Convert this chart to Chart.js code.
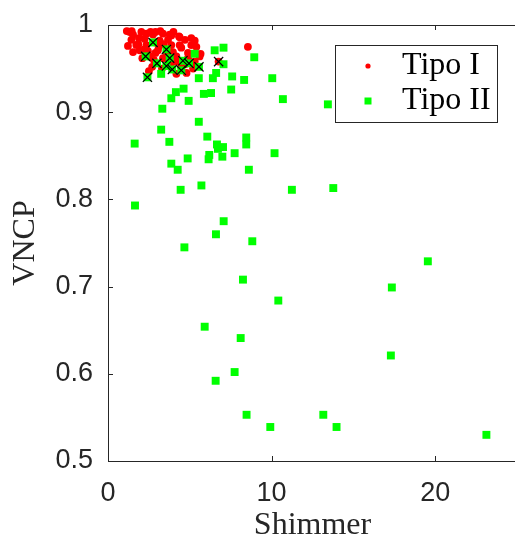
<!DOCTYPE html>
<html>
<head>
<meta charset="utf-8">
<script src="https://cdn.jsdelivr.net/npm/chart.js@4.4.1/dist/chart.umd.min.js"></script>
<style>
html, body { margin: 0; padding: 0; overflow: hidden; background: #fff; }
</style>
</head>
<body>
<canvas id="scatter" width="530" height="540"></canvas>
<script>
// Tipo I (rojo)
const tipo1X = [1.33, 1.53, 2.04, 2.35, 2.75, 3.36, 3.77, 4.34, 5.09, 1.43, 1.89, 2.24, 3.16, 3.67,
  1.22, 1.73, 2.35, 3.87, 4.38, 5.09, 1.53, 1.94, 2.44, 3.05, 3.97, 4.89, 2.55, 3.36, 4.18, 4.89,
  4.48, 4.18, 2.50, 5.60, 3.87, 4.38, 5.66, 4.48, 3.87, 8.55, 6.76, 1.15, 2.90, 3.10, 2.10, 4.70,
  5.30, 2.80, 1.45, 2.60, 3.20, 4.00, 1.85, 2.90, 3.40, 4.70, 5.40, 5.30, 2.20, 2.90, 3.60, 4.20,
  3.30, 2.70, 5.20, 4.80];
const tipo1Y = [0.992, 0.989, 0.992, 0.990, 0.989, 0.990, 0.989, 0.987, 0.985, 0.983, 0.985, 0.984, 0.982, 0.983,
  0.976, 0.977, 0.977, 0.977, 0.977, 0.977, 0.969, 0.971, 0.970, 0.971, 0.969, 0.968, 0.964, 0.962, 0.964, 0.962,
  0.952, 0.944, 0.947, 0.964, 0.956, 0.986, 0.967, 0.974, 0.988, 0.975, 0.958, 0.993, 0.992, 0.975, 0.962, 0.955,
  0.958, 0.960, 0.993, 0.992, 0.993, 0.992, 0.978, 0.980, 0.978, 0.983, 0.975, 0.982, 0.972, 0.968, 0.967, 0.958,
  0.950, 0.952, 0.950, 0.945];

// Tipo II (verde)
const tipo2X = [2.75, 3.57, 2.30, 3.77, 2.99, 3.57, 4.58, 4.95, 3.93, 4.48, 5.56, 2.41,
  5.30, 6.52, 7.06, 7.06, 3.25, 5.55, 6.41, 7.59, 6.61, 8.32, 8.94, 10.04,
  4.62, 4.15, 3.87, 4.93, 5.86, 6.30, 7.53, 3.32, 5.55, 3.25, 10.69, 13.44,
  1.63, 3.75, 6.07, 6.66, 7.03, 6.72, 8.45, 8.45, 7.74, 10.18, 6.19, 6.15, 6.99, 4.87,
  3.87, 4.26, 8.61, 5.71, 4.44, 11.24, 13.77, 1.65, 7.07, 6.60, 8.82, 4.67,
  8.25, 10.41, 5.91, 8.11, 7.74, 6.58, 8.47, 9.92, 19.55, 17.35, 17.29, 13.16, 13.97, 23.13];
const tipo2Y = [0.980, 0.972, 0.964, 0.962, 0.956, 0.953, 0.959, 0.956, 0.949, 0.948, 0.952, 0.940,
  0.967, 0.971, 0.974, 0.955, 0.944, 0.939, 0.939, 0.941, 0.945, 0.937, 0.963, 0.939,
  0.927, 0.923, 0.916, 0.913, 0.921, 0.922, 0.926, 0.904, 0.889, 0.880, 0.915, 0.909,
  0.864, 0.866, 0.872, 0.863, 0.860, 0.858, 0.871, 0.863, 0.853, 0.853, 0.851, 0.846, 0.849, 0.847,
  0.841, 0.834, 0.834, 0.816, 0.811, 0.811, 0.813, 0.793, 0.775, 0.760, 0.752, 0.745,
  0.708, 0.684, 0.654, 0.641, 0.602, 0.592, 0.553, 0.539, 0.729, 0.699, 0.621, 0.553, 0.539, 0.530];

// puntos marcados con x
const markX = [2.75, 3.57, 2.30, 3.77, 2.99, 3.57, 4.58, 4.95, 3.93, 4.48, 5.56, 2.41, 6.76];
const markY = [0.980, 0.972, 0.964, 0.962, 0.956, 0.953, 0.959, 0.956, 0.949, 0.948, 0.952, 0.940, 0.958];

const xTicks = [0, 10, 20];
const yTicks = [0.5, 0.6, 0.7, 0.8, 0.9, 1];
const legendLabels = ['Tipo I', 'Tipo II'];

const toPoints = (xs, ys) => xs.map((v, i) => ({x: v, y: ys[i]}));
const axisColor = '#262626';

//marco, ticks hacia dentro y leyenda
const axisFrame = {
    id: 'axisFrame',
    afterDraw(chart) {
        const {ctx, chartArea: a, scales: {x, y}} = chart;
        ctx.save();
        ctx.strokeStyle = axisColor;
        ctx.lineWidth = 1;
        ctx.beginPath();
        ctx.moveTo(a.left + 0.5, a.top + 0.5);
        ctx.lineTo(a.left + 0.5, a.bottom + 0.5);
        ctx.lineTo(a.right, a.bottom + 0.5);
        ctx.moveTo(a.left, a.top + 0.5);
        ctx.lineTo(a.right, a.top + 0.5);
        xTicks.forEach(v => {
            const px = Math.round(x.getPixelForValue(v)) + 0.5;
            ctx.moveTo(px, a.bottom);
            ctx.lineTo(px, a.bottom - 5);
            ctx.moveTo(px, a.top);
            ctx.lineTo(px, a.top + 5);
        });
        yTicks.forEach(v => {
            const py = Math.round(y.getPixelForValue(v)) + 0.5;
            ctx.moveTo(a.left, py);
            ctx.lineTo(a.left + 5, py);
        });
        ctx.stroke();

        // leyenda
        const bx = 335.5, by = 45.5, bw = 162, bh = 77;
        ctx.fillStyle = '#fff';
        ctx.fillRect(bx, by, bw, bh);
        ctx.strokeRect(bx, by, bw, bh);
        ctx.fillStyle = '#ff0000';
        ctx.beginPath();
        ctx.arc(368, 66, 2.6, 0, Math.PI * 2);
        ctx.fill();
        ctx.fillStyle = '#00ff00';
        ctx.fillRect(364.5, 97.5, 7, 7);
        ctx.fillStyle = '#000';
        ctx.font = '32px "Liberation Serif"';
        ctx.textBaseline = 'alphabetic';
        ctx.textAlign = 'left';
        ctx.fillText(legendLabels[0], 402, 74);
        ctx.fillText(legendLabels[1], 402, 109);
        ctx.restore();
    }
};

new Chart(document.getElementById('scatter'), {
    type: 'scatter',
    data: {
        datasets: [
            {
                label: 'marca',
                data: toPoints(markX, markY),
                pointStyle: 'crossRot',
                pointRadius: 6.5,
                borderColor: '#000',
                borderWidth: 1.2,
                order: 1
            },
            {
                label: legendLabels[1],
                data: toPoints(tipo2X, tipo2Y),
                pointStyle: 'rect',
                pointRadius: 5.6,
                backgroundColor: '#00ff00',
                borderWidth: 0,
                order: 2
            },
            {
                label: legendLabels[0],
                data: toPoints(tipo1X, tipo1Y),
                pointStyle: 'circle',
                pointRadius: 3.9,
                backgroundColor: '#ff0000',
                borderWidth: 0,
                order: 3
            }
        ]
    },
    options: {
        responsive: false,
        animation: false,
        devicePixelRatio: 1,
        layout: { padding: { top: 25, right: 13, left: 0, bottom: 0 } },
        plugins: { legend: { display: false }, tooltip: { enabled: false } },
        scales: {
            x: {
                type: 'linear',
                min: 0, max: 25,
                grid: { display: false, drawTicks: false },
                border: { display: false },
                afterBuildTicks: s => { s.ticks = xTicks.map(v => ({value: v})); },
                afterFit: s => { s.height = 79; s.paddingLeft = 0; s.paddingRight = 0; },
                ticks: {
                    color: axisColor,
                    padding: 16,
                    font: { family: '"Liberation Sans"', size: 27 },
                    callback: v => String(v)
                },
                title: {
                    display: true,
                    text: 'Shimmer',
                    color: axisColor,
                    padding: 0,
                    font: { family: '"Liberation Serif"', size: 32, lineHeight: 0.875 }
                }
            },
            y: {
                type: 'linear',
                min: 0.5, max: 1,
                grid: { display: false, drawTicks: false },
                border: { display: false },
                afterBuildTicks: s => { s.ticks = yTicks.map(v => ({value: v})); },
                afterFit: s => { s.width = 108; s.paddingTop = 0; s.paddingBottom = 0; },
                ticks: {
                    color: axisColor,
                    padding: 15,
                    font: { family: '"Liberation Sans"', size: 27 },
                    callback: v => String(Math.round(v * 10) / 10)
                },
                title: {
                    display: true,
                    text: 'VNCP',
                    color: axisColor,
                    padding: { top: 6, bottom: 0 },
                    font: { family: '"Liberation Serif"', size: 32, lineHeight: 1.2 }
                }
            }
        }
    },
    plugins: [axisFrame]
});
</script>
</body>
</html>
